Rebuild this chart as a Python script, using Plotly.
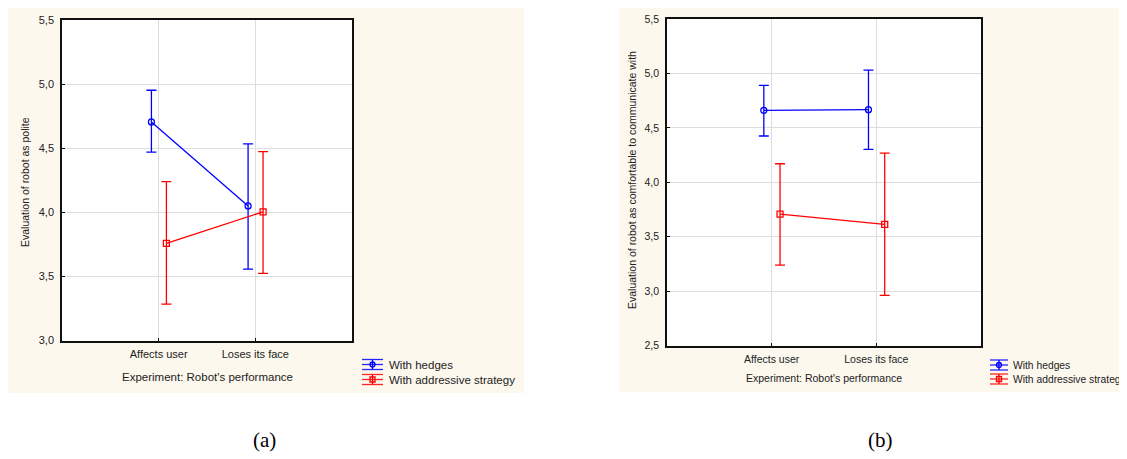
import plotly.graph_objects as go

# Page body has an 8px margin, so the figure is placed at (8, 8) in the window.
OX, OY = 8, 8
W, H = 1127 - OX, 459 - OY

categories = ["Affects user", "Loses its face"]
series_names = ["With hedges", "With addressive strategy"]

# Panel (a): Evaluation of robot as polite
a_hedges_mean = [4.705, 4.05]
a_hedges_low = [4.47, 3.557]
a_hedges_high = [4.952, 4.534]
a_addr_mean = [3.757, 4.004]
a_addr_low = [3.284, 3.523]
a_addr_high = [4.24, 4.474]

# Panel (b): Evaluation of robot as comfortable to communicate with
b_hedges_mean = [4.661, 4.667]
b_hedges_low = [4.425, 4.302]
b_hedges_high = [4.891, 5.031]
b_addr_mean = [3.708, 3.613]
b_addr_low = [3.239, 2.961]
b_addr_high = [4.17, 4.268]

a_yticks = [3.0, 3.5, 4.0, 4.5, 5.0, 5.5]
b_yticks = [2.5, 3.0, 3.5, 4.0, 4.5, 5.0, 5.5]

BLUE = "#0000FF"
RED = "#FF0000"
CREAM = "#FCF8EE"
FONT = "Arial, Liberation Sans, sans-serif"
TXT = "#222222"
series_colors = [BLUE, RED]
series_symbols = ["circle", "square"]


def px_x(v):
    return min(max((v - OX) / W, 0.0), 1.0)


def px_y(v):
    return min(max(1 - (v - OY) / H, 0.0), 1.0)


fig = go.Figure()


def add_series(mean, low, high, color, symbol, name, xa, ya, offset):
    xs = [i + 1 + offset for i in range(len(categories))]
    fig.add_trace(go.Scatter(
        x=xs, y=mean, mode="lines+markers", name=name,
        xaxis=xa, yaxis=ya, showlegend=False,
        line=dict(color=color, width=1.3),
        marker=dict(symbol=symbol + "-open", size=6, color=color, line=dict(color=color, width=1.3)),
        error_y=dict(type="data", symmetric=False,
                     array=[h - m for h, m in zip(high, mean)],
                     arrayminus=[m - l for m, l in zip(mean, low)],
                     color=color, thickness=1.3, width=5),
    ))


add_series(a_hedges_mean, a_hedges_low, a_hedges_high, BLUE, "circle", series_names[0], "x", "y", -0.075)
add_series(a_addr_mean, a_addr_low, a_addr_high, RED, "square", series_names[1], "x", "y", 0.08)
add_series(b_hedges_mean, b_hedges_low, b_hedges_high, BLUE, "circle", series_names[0], "x2", "y2", -0.075)
add_series(b_addr_mean, b_addr_low, b_addr_high, RED, "square", series_names[1], "x2", "y2", 0.08)


def axis_common(fs):
    return dict(
        showline=True, linecolor="#111111", linewidth=1.5, mirror=True,
        showgrid=True, gridcolor="#DDDDDD", gridwidth=1, zeroline=False,
        ticks="inside", ticklen=3, tickcolor="#111111", automargin=False,
        tickfont=dict(family=FONT, size=fs, color=TXT),
    )


shapes = [
    dict(type="rect", xref="paper", yref="paper", layer="below",
         x0=px_x(8), x1=px_x(524), y0=px_y(393), y1=px_y(6),
         fillcolor=CREAM, line=dict(width=0)),
    dict(type="rect", xref="paper", yref="paper", layer="below",
         x0=px_x(619), x1=1.0, y0=px_y(392), y1=px_y(6),
         fillcolor=CREAM, line=dict(width=0)),
    # white plotting areas on top of the cream panels
    dict(type="rect", xref="x domain", yref="y domain", layer="below",
         x0=0, x1=1, y0=0, y1=1, fillcolor="white", line=dict(width=0)),
    dict(type="rect", xref="x2 domain", yref="y2 domain", layer="below",
         x0=0, x1=1, y0=0, y1=1, fillcolor="white", line=dict(width=0)),
]
annotations = []


def legend_block(x_icon0, x_icon1, x_text, rows_y, fs):
    xc = (x_icon0 + x_icon1) / 2
    for name, color, sym, yc in zip(series_names, series_colors, series_symbols, rows_y):
        for dy in (-5, 0, 5):
            shapes.append(dict(type="line", xref="paper", yref="paper",
                               x0=px_x(x_icon0), x1=px_x(x_icon1), y0=px_y(yc + dy), y1=px_y(yc + dy),
                               line=dict(color=color, width=1.3), opacity=0.85))
        shapes.append(dict(type="line", xref="paper", yref="paper",
                           x0=px_x(xc), x1=px_x(xc), y0=px_y(yc - 5), y1=px_y(yc + 5),
                           line=dict(color=color, width=1.3)))
        shapes.append(dict(type="circle" if sym == "circle" else "rect", xref="paper", yref="paper",
                           x0=px_x(xc - 2.5), x1=px_x(xc + 2.5), y0=px_y(yc + 2.5), y1=px_y(yc - 2.5),
                           line=dict(color=color, width=1.3), fillcolor="rgba(0,0,0,0)"))
        annotations.append(dict(text=name, xref="paper", yref="paper", x=px_x(x_text), y=px_y(yc),
                                xanchor="left", yanchor="middle", showarrow=False,
                                font=dict(family=FONT, size=fs, color=TXT)))


legend_block(362, 383, 387, [364.5, 379.5], 11.5)
legend_block(990, 1008, 1011, [365, 379], 10.3)

serif = dict(family="Liberation Serif, Times New Roman, serif", size=21, color="black")
annotations += [
    dict(text="Evaluation of robot as polite", xref="paper", yref="paper",
         x=px_x(25), y=px_y(182), textangle=-90, showarrow=False,
         xanchor="center", yanchor="middle", font=dict(family=FONT, size=10.5, color=TXT)),
    dict(text="Experiment: Robot's performance", xref="paper", yref="paper",
         x=px_x(207), y=px_y(377), showarrow=False,
         xanchor="center", yanchor="middle", font=dict(family=FONT, size=11.5, color=TXT)),
    dict(text="Evaluation of robot as comfortable to communicate with", xref="paper", yref="paper",
         x=px_x(632), y=px_y(180), textangle=-90, showarrow=False,
         xanchor="center", yanchor="middle", font=dict(family=FONT, size=10.5, color=TXT)),
    dict(text="Experiment: Robot's performance", xref="paper", yref="paper",
         x=px_x(824), y=px_y(378), showarrow=False,
         xanchor="center", yanchor="middle", font=dict(family=FONT, size=10.5, color=TXT)),
    dict(text="(a)", xref="paper", yref="paper", x=px_x(264), y=px_y(440),
         xanchor="center", yanchor="middle", showarrow=False, font=serif),
    dict(text="(b)", xref="paper", yref="paper", x=px_x(880), y=px_y(440),
         xanchor="center", yanchor="middle", showarrow=False, font=serif),
]

fig.update_layout(
    width=W, height=H,
    margin=dict(l=0, r=0, t=0, b=0, pad=0, autoexpand=False),
    paper_bgcolor="white", plot_bgcolor="white",
    showlegend=False,
    xaxis=dict(domain=[px_x(62), px_x(352)], anchor="y", range=[0, 3],
               tickvals=[1, 2], ticktext=categories, ticklabelstandoff=3, **axis_common(11)),
    yaxis=dict(domain=[px_y(340.5), px_y(20)], anchor="x", range=[3.0, 5.5],
               tickvals=a_yticks, ticktext=[f"{v:.1f}".replace(".", ",") for v in a_yticks],
               ticklabelstandoff=4, **axis_common(11)),
    xaxis2=dict(domain=[px_x(667), px_x(981)], anchor="y2", range=[0, 3],
                tickvals=[1, 2], ticktext=categories, ticklabelstandoff=3, **axis_common(10.5)),
    yaxis2=dict(domain=[px_y(345.5), px_y(19)], anchor="x2", range=[2.5, 5.5],
                tickvals=b_yticks, ticktext=[f"{v:.1f}".replace(".", ",") for v in b_yticks],
                ticklabelstandoff=4, **axis_common(10.5)),
    shapes=shapes,
    annotations=annotations,
)

fig.write_html("out.html")
